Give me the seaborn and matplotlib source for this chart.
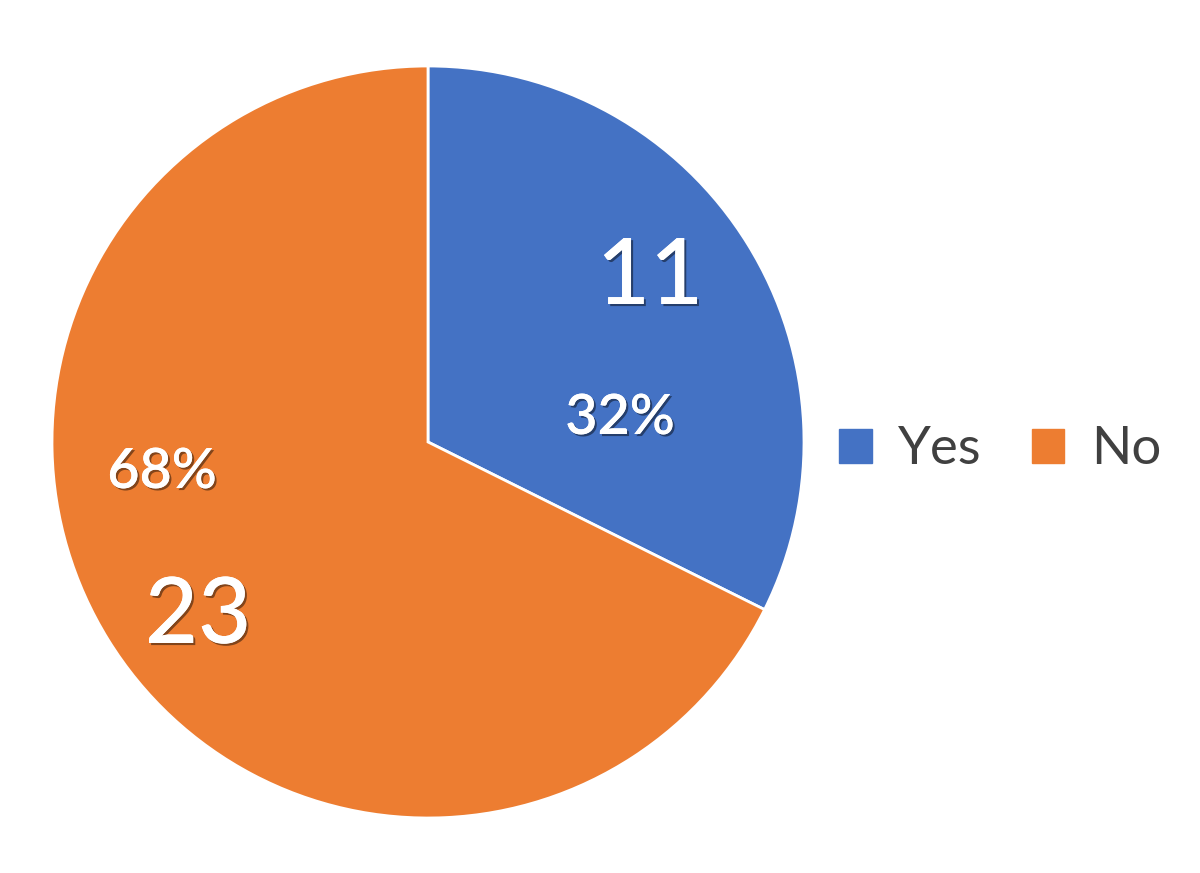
import matplotlib
matplotlib.use("Agg")
import matplotlib.pyplot as plt
import matplotlib.patheffects as pe
from matplotlib.patches import Patch
import seaborn as sns

categories = ["Yes", "No"]
counts = [11, 23]
percent_labels = ["32%", "68%"]
colors = ["#4472C4", "#ED7D31"]

sns.set_theme(style="white")
plt.rcParams['font.family'] = ['Lato', 'DejaVu Sans']

fig = plt.figure(figsize=(12, 8.73), dpi=100)
ax = fig.add_axes([0, 0, 1, 1])

cx, cy, r = 428, 873 - 442, 376
wedges, _ = ax.pie(counts, colors=colors, startangle=90, counterclock=False,
                   center=(cx, cy), radius=r, frame=True,
                   wedgeprops=dict(edgecolor="white", linewidth=2))
ax.set_xlim(0, 1200)
ax.set_ylim(0, 873)
ax.set_aspect("equal")
ax.axis("off")

shadow = [pe.withSimplePatchShadow(offset=(1.5, -1.5), shadow_rgbFace="black", alpha=0.45), pe.Normal()]

count_pos = [(650, 278), (198, 617)]
pct_pos = [(620, 418), (162, 472)]
for i in range(len(categories)):
    ax.text(count_pos[i][0], 873 - count_pos[i][1], str(counts[i]), color="white",
            fontsize=66, fontweight="medium", ha="center", va="center", path_effects=shadow)
    ax.text(pct_pos[i][0], 873 - pct_pos[i][1], percent_labels[i], color="white",
            fontsize=40, fontweight="semibold", ha="center", va="center", path_effects=shadow)

handles = [Patch(facecolor=c, edgecolor=c) for c in colors]
fig.legend(handles, categories, loc="center", bbox_to_anchor=(1000 / 1200, 1 - 450 / 873),
           ncol=2, frameon=False, fontsize=38, handlelength=0.62, handleheight=0.62,
           handletextpad=0.5, columnspacing=0.95, labelcolor="#404040")

fig.savefig("out.png", dpi=100, facecolor="white")
